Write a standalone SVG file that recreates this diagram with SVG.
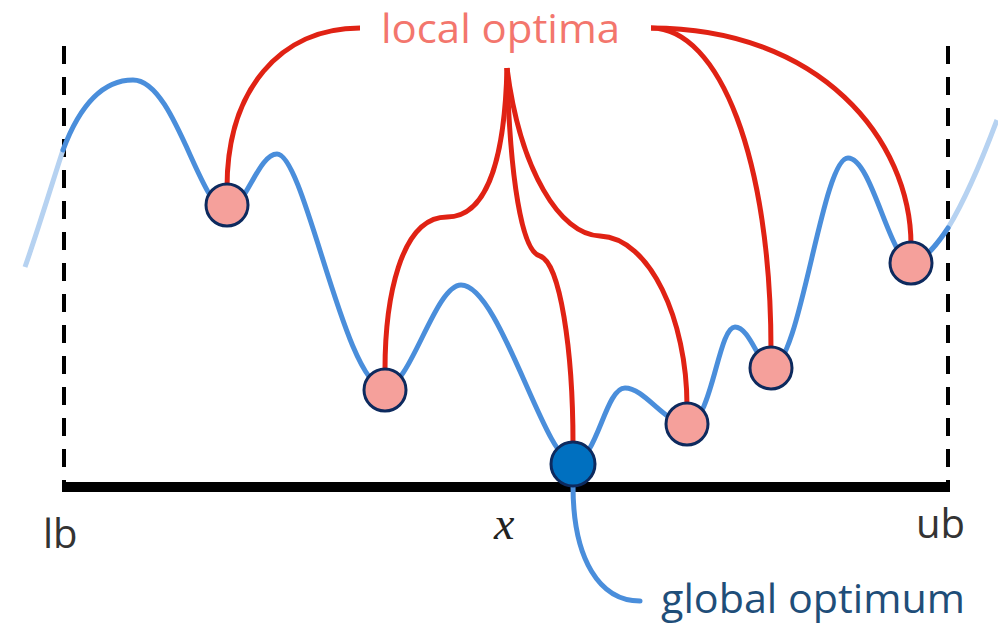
<svg xmlns="http://www.w3.org/2000/svg" width="998" height="624" viewBox="0 0 998 624">
<style>
.dash{stroke:#000;stroke-width:4;stroke-dasharray:18 13;fill:none}
.curve{stroke:#4a8edb;stroke-width:5;fill:none;stroke-linecap:round}
.light{stroke:#b6d2f1;stroke-width:5;fill:none}
.red{stroke:#e02214;stroke-width:5;fill:none}
.loc{fill:#f5a09b;stroke:#0d2a5e;stroke-width:3}
.glob{fill:#0070c0;stroke:#0d2a5e;stroke-width:3}
.lbl{font-family:"Open Sans","Noto Sans","Liberation Sans",sans-serif}
</style>
<rect width="998" height="624" fill="#fff"/>
<g id="axes">
<line class="dash" x1="64" y1="46" x2="64" y2="484"/>
<line class="dash" x1="948" y1="46" x2="948" y2="484"/>
<line x1="62" y1="487" x2="950" y2="487" stroke="#000" stroke-width="10"/>
</g>
<g id="function">
<path class="light" d="M25,267 C 38,230 50,190 63,150"/>
<path class="light" d="M948,228 C 965,200 982,160 997,120"/>
<path class="curve" d="M63,150 C 78,110 100,80 133,80 C 175,80 200,210 227,210 C 245,210 258,154 277,154 C 305,154 345,388 385,388 C 410,388 435,285 461,285 C 500,285 545,462 573,462 C 597,462 605,388 625,388 C 645,388 665,424 687,424 C 712,424 718,327 735,327 C 750,327 760,368 771,368 C 800,368 822,158 848,158 C 872,158 890,262 911,262 C 925,262 940,240 948,228"/>
</g>
<g id="connectors">
<path class="red" d="M360,28 C 280,28 227,90 227,188"/>
<path class="red" d="M651,28 C 820,28 911,140 911,245"/>
<path class="red" d="M651,28 C 720,28 771,160 771,350"/>
<path class="red" d="M507,68 C 505,150 490,217 447,217 C 400,217 385,300 385,370"/>
<path class="red" d="M507,68 C 510,180 522,252 540,256 C 560,262 573,350 573,444"/>
<path class="red" d="M507,68 C 520,170 560,235 600,236 C 650,238 687,320 687,406"/>
<path class="curve" d="M573,486 C 573,560 600,601 640,601" stroke-linecap="butt"/>
</g>
<g id="node-lo1"><circle class="loc" cx="227" cy="205" r="21"/></g>
<g id="node-lo2"><circle class="loc" cx="385" cy="390" r="21"/></g>
<g id="node-lo3"><circle class="loc" cx="687" cy="424" r="21"/></g>
<g id="node-lo4"><circle class="loc" cx="771" cy="368" r="21"/></g>
<g id="node-lo5"><circle class="loc" cx="911" cy="263" r="21"/></g>
<g id="node-global"><circle class="glob" cx="573" cy="464" r="22"/></g>
<g id="labels">
<text class="lbl" x="381" y="43" font-size="40" fill="#f3766d" textLength="239" lengthAdjust="spacingAndGlyphs">local optima</text>
<text class="lbl" x="661" y="613" font-size="40" fill="#1f4e79" textLength="304" lengthAdjust="spacingAndGlyphs">global optimum</text>
<text class="lbl" x="43" y="548" font-size="40" fill="#333">lb</text>
<text class="lbl" x="916" y="538" font-size="40" fill="#333">ub</text>
<text x="494" y="539" font-size="46" font-style="italic" fill="#222" font-family="'Liberation Serif',serif">x</text>
</g>
</svg>
